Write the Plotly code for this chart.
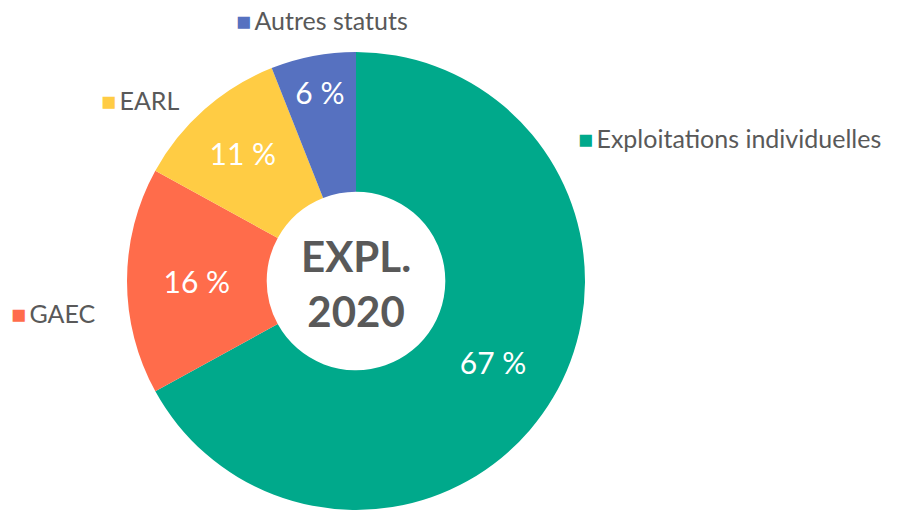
import plotly.graph_objects as go

categories = ["Exploitations individuelles", "GAEC", "EARL", "Autres statuts"]
values = [67, 16, 11, 6]
pct_labels = ["67 %", "16 %", "11 %", "6 %"]
colors = ["#00A98B", "#FF6C4B", "#FFCC44", "#5671C0"]
center_text = "EXPL.<br>2020"

W, H = 913, 510
cx, cy, r = 356, 281, 229
fig = go.Figure(go.Pie(
    labels=categories,
    values=values,
    text=pct_labels,
    texttemplate="%{text}",
    textposition="inside",
    insidetextorientation="horizontal",
    insidetextfont=dict(family="Lato", size=30, color="white"),
    marker=dict(colors=colors, line=dict(width=0)),
    hole=0.39,
    sort=False,
    direction="clockwise",
    rotation=0,
    showlegend=False,
    hoverinfo="label+percent",
    domain=dict(x=[(cx - r) / W, (cx + r) / W],
                y=[1 - (cy + r) / H, 1 - (cy - r) / H]),
))

label_pos = {
    "Autres statuts": (234, 20),
    "EARL": (99, 100),
    "Exploitations individuelles": (576, 138),
    "GAEC": (9, 313),
}
annotations = []
for cat, col in zip(categories, colors):
    x, y = label_pos[cat]
    annotations.append(dict(
        x=x / W, y=1 - y / H, xref="paper", yref="paper",
        xanchor="left", yanchor="middle", showarrow=False,
        text=(f"<span style='color:{col};font-size:25px'>■</span>"
              f"<span style='font-size:13px'>&nbsp;</span>{cat}"),
        font=dict(family="Lato", size=25, color="#595959"),
    ))
annotations.append(dict(
    x=cx / W, y=1 - (cy + 2) / H, xref="paper", yref="paper",
    xanchor="center", yanchor="middle", showarrow=False,
    text=center_text,
    font=dict(family="Lato", size=42, color="#595959", weight="bold"),
))

fig.update_layout(
    width=W, height=H,
    margin=dict(l=0, r=0, t=0, b=0),
    paper_bgcolor="white",
    annotations=annotations,
    uniformtext=dict(minsize=30, mode="show"),
)
fig.write_html("out.html", config={"displayModeBar": False},
               post_script="document.body.style.margin='0';document.body.style.overflow='hidden';")
